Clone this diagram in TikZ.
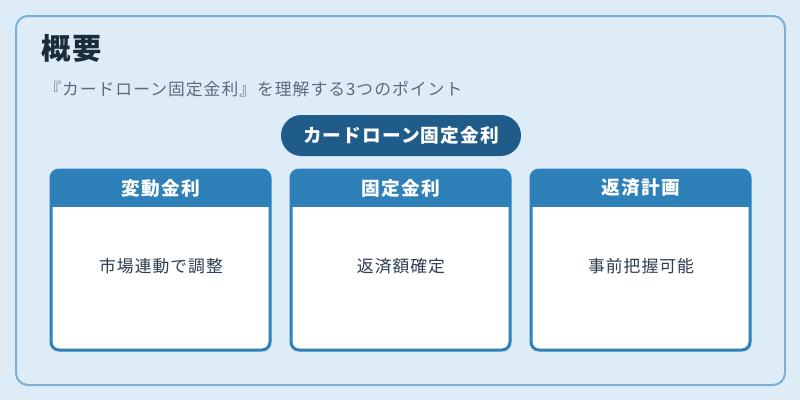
\documentclass[tikz,border=0pt]{standalone}
\usepackage{fontspec}
\usetikzlibrary{calc}
\setmainfont{Noto Sans CJK JP}[LetterSpace=6]
\definecolor{bgc}{HTML}{DDECF7}
\definecolor{outerc}{HTML}{7BAFD4}
\definecolor{titlec}{HTML}{1B2B3A}
\definecolor{subc}{HTML}{5B6B7B}
\definecolor{pillc}{HTML}{1F5C8A}
\definecolor{cardc}{HTML}{2E80B8}
\definecolor{bodyc}{HTML}{2C3E50}
\tikzset{
  px/.style={x=0.75pt,y=-0.75pt},
  headtext/.style={text=white,font=\fontsize{14pt}{16pt}\selectfont\bfseries,inner sep=0pt},
  bodytext/.style={text=bodyc,font=\fontsize{12.6pt}{14pt}\selectfont,inner sep=0pt},
  cardframe/.style={draw=cardc,line width=2.25pt,rounded corners=6pt},
}
\begin{document}
\begin{tikzpicture}[px]
\useasboundingbox (0,0) rectangle (800,400);
\fill[bgc] (0,0) rectangle (800,400);
\draw[outerc,line width=1.5pt,fill=bgc,rounded corners=9pt] (16,16) rectangle (785,385);
\node[anchor=west,text=titlec,font=\fontsize{22pt}{24pt}\selectfont\bfseries,inner sep=0pt] (title) at (41,48) {概要};
\node[anchor=west,text=subc,font=\fontsize{12.6pt}{14pt}\selectfont,inner sep=0pt] (sub) at (44,89) {『カードローン固定金利』を理解する3つのポイント};
\fill[pillc,rounded corners=15.3pt] (281,115) rectangle (521,156);
\node[headtext] (pill) at (401,135) {カードローン固定金利};
\foreach \x/\h/\b [count=\i] in {51/変動金利/市場連動で調整,291/固定金利/返済額確定,531/返済計画/事前把握可能}{
  \fill[white,rounded corners=6pt] (\x,170) rectangle ++(219,180);
  \fill[cardc,rounded corners=6pt] (\x,170) rectangle ++(219,36);
  \fill[cardc] (\x,190) rectangle ++(219,17);
  \draw[cardframe] (\x,170) rectangle ++(219,180);
  \node[headtext] (h\i) at ($(\x,188)+(110,0)$) {\h};
  \node[bodytext] (b\i) at ($(\x,266)+(110,0)$) {\b};
}
\end{tikzpicture}
\end{document}
